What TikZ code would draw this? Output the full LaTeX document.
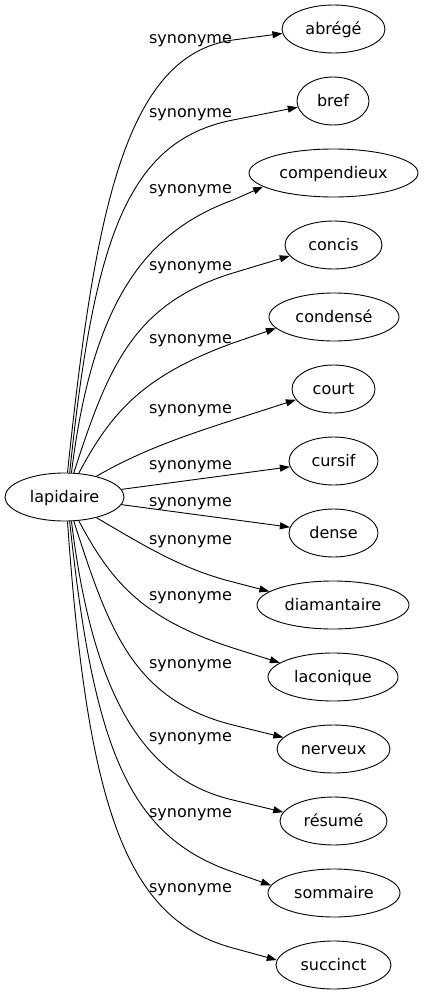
\documentclass[tikz,border=0pt]{standalone}
\usepackage{fontspec}
\setmainfont{DejaVu Sans}
\usetikzlibrary{shapes.geometric,arrows.meta}
\tikzset{
	word/.style={draw,ellipse,line width=0.9pt,inner sep=0pt,minimum height=48pt,text height=15pt,text depth=3.6pt},
	rel/.style={inner sep=0pt},
	syn/.style={->,line width=0.9pt}
}
\begin{document}
\begin{tikzpicture}[>={Triangle[length=10pt,width=7pt]},line join=round,x=1pt,y=1pt,font=\fontsize{16}{19}\selectfont]
			\useasboundingbox (0,0) rectangle (423,-995);
			\def\lx{190.5} \def\wx{233}
			% centre
			\node[word,minimum width=119pt] (lapidaire) at (64.5,-497) {lapidaire};
			% synonymes
			\node[word,minimum width=103pt] (abrege) at (333.5,-29) {abrégé};
			\node[word,minimum width=72pt] (bref) at (333,-101) {bref};
			\node[word,minimum width=169pt] (compendieux) at (333.5,-173) {compendieux};
			\node[word,minimum width=97pt] (concis) at (333.5,-245) {concis};
			\node[word,minimum width=130pt] (condense) at (334,-317) {condensé};
			\node[word,minimum width=83pt] (court) at (333.5,-389) {court};
			\node[word,minimum width=89pt] (cursif) at (333.5,-461) {cursif};
			\node[word,minimum width=89pt] (dense) at (333.5,-533) {dense};
			\node[word,minimum width=152pt] (diamantaire) at (333,-605) {diamantaire};
			\node[word,minimum width=130pt] (laconique) at (333,-677) {laconique};
			\node[word,minimum width=113pt] (nerveux) at (333.5,-749) {nerveux};
			\node[word,minimum width=107pt] (resume) at (333.5,-821) {résumé};
			\node[word,minimum width=132pt] (sommaire) at (334,-893) {sommaire};
			\node[word,minimum width=115pt] (succinct) at (333.5,-965) {succinct};
			% etiquettes
			\node[rel] (s1) at (\lx,-41) {synonyme};
			\node[rel] (s2) at (\lx,-114.5) {synonyme};
			\node[rel] (s3) at (\lx,-190.5) {synonyme};
			\node[rel] (s4) at (\lx,-268) {synonyme};
			\node[rel] (s5) at (\lx,-341) {synonyme};
			\node[rel] (s6) at (\lx,-410.5) {synonyme};
			\node[rel] (s7) at (\lx,-466.7) {synonyme};
			\node[rel] (s8) at (\lx,-504) {synonyme};
			\node[rel] (s9) at (\lx,-541.7) {synonyme};
			\node[rel] (s10) at (\lx,-597.5) {synonyme};
			\node[rel] (s11) at (\lx,-665.8) {synonyme};
			\node[rel] (s12) at (\lx,-739) {synonyme};
			\node[rel] (s13) at (\lx,-814.5) {synonyme};
			\node[rel] (s14) at (\lx,-890) {synonyme};
			% passages
			\coordinate (w1) at (\wx,-40); \coordinate (w2) at (\wx,-120);
			\coordinate (w3) at (\wx,-200); \coordinate (w4) at (\wx,-273);
			\coordinate (w5) at (\wx,-343); \coordinate (w6) at (\wx,-420);
			\coordinate (w9) at (\wx,-582); \coordinate (w10) at (\wx,-648);
			\coordinate (w11) at (\wx,-725); \coordinate (w12) at (\wx,-800);
			\coordinate (w13) at (\wx,-872); \coordinate (w14) at (\wx,-948);
			% arcs
			\draw[syn] (lapidaire.83) .. controls +(84:260) and +(188:110) .. (w1) -- (abrege.185);
			\draw[syn] (lapidaire.78) .. controls +(84:230) and +(191:110) .. (w2) -- (bref.190);
			\draw[syn] (lapidaire.74) .. controls +(83:170) and +(200:95) .. (w3) -- (compendieux.191);
			\draw[syn] (lapidaire.69) .. controls +(72:110) and +(197:105) .. (w4) -- (concis.194);
			\draw[syn] (lapidaire.59) .. controls +(62:70) and +(200:95) .. (w5) -- (condense.191);
			\draw[syn] (lapidaire.33) .. controls +(30:50) and +(198:55) .. (w6) -- (court.196);
			\draw[syn] (lapidaire) -- (cursif);
			\draw[syn] (lapidaire) -- (dense);
			\draw[syn] (lapidaire.-33) .. controls +(-30:50) and +(166:55) .. (w9) -- (diamantaire.168);
			\draw[syn] (lapidaire.-59) .. controls +(-62:70) and +(162:95) .. (w10) -- (laconique.165);
			\draw[syn] (lapidaire.-69) .. controls +(-72:110) and +(166:105) .. (w11) -- (nerveux.167);
			\draw[syn] (lapidaire.-74) .. controls +(-83:170) and +(167:95) .. (w12) -- (resume.170);
			\draw[syn] (lapidaire.-78) .. controls +(-84:230) and +(161:110) .. (w13) -- (sommaire.173);
			\draw[syn] (lapidaire.-83) .. controls +(-86:290) and +(165:110) .. (w14) -- (succinct.175);
	\end{tikzpicture}
\end{document}
